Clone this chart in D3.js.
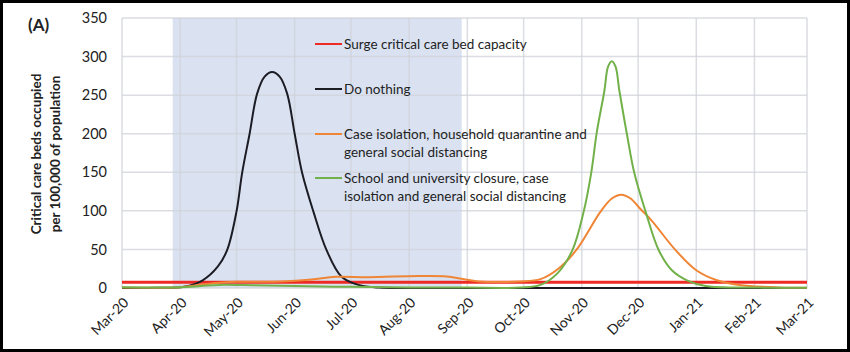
<!DOCTYPE html>
<html>
<head>
<meta charset="utf-8">
<script src="https://cdn.jsdelivr.net/npm/d3@7"></script>
<style>
  body { margin: 0; background: #fff; }
  svg { display: block; font-family: Lato, 'Open Sans', sans-serif; }
</style>
</head>
<body>
<svg id="chart" width="850" height="352"></svg>
<script>
'use strict';

const width = 850;
const height = 352;
const margin = { top: 18, right: 43, bottom: 64, left: 122 };

// Axis range and ticks
const xDomain = ['2020-03-01', '2021-03-01'];
const yTicks = [0, 50, 100, 150, 200, 250, 300, 350];

// Shaded period (interventions in place)
const shadeDates = ['2020-03-28', '2020-08-29'];

// Surge capacity
const surgeDates = ['2020-03-01', '2021-03-01'];
const surgeValues = [7.5, 7.5];

// Do nothing
const doNothingDates = ['2020-03-01', '2020-03-20', '2020-04-03', '2020-04-13', '2020-04-21', '2020-04-26',
  '2020-05-01', '2020-05-04', '2020-05-08', '2020-05-12', '2020-05-16', '2020-05-20', '2020-05-24',
  '2020-05-28', '2020-06-01', '2020-06-05', '2020-06-11', '2020-06-18', '2020-06-26', '2020-07-05',
  '2020-07-16', '2020-08-01', '2020-09-01', '2020-12-01', '2021-03-01'];
const doNothingValues = [0, 0.2, 1.5, 10, 27.6, 49, 99, 149, 200, 252, 274, 280, 274, 252, 200, 149, 99,
  49, 14.6, 4, 0.5, 0, 0, 0, 0];

// Case isolation, household quarantine and general social distancing
const caseIsoDates = ['2020-03-01', '2020-04-01', '2020-04-08', '2020-04-20', '2020-05-01', '2020-05-25',
  '2020-06-10', '2020-06-23', '2020-07-10', '2020-08-06', '2020-08-21', '2020-08-29', '2020-09-07',
  '2020-09-29', '2020-10-10', '2020-10-20', '2020-10-29', '2020-11-11', '2020-11-17', '2020-11-22',
  '2020-11-27', '2020-12-02', '2020-12-08', '2020-12-21', '2021-01-01', '2021-01-12', '2021-01-24',
  '2021-02-14', '2021-03-01'];
const caseIsoValues = [0.5, 1, 3, 6.5, 8, 8.5, 11, 14.5, 14, 15.5, 15, 12, 8.5, 8.5, 11.5, 26, 49, 99,
  116, 121, 116, 103, 88, 49, 23, 10, 4, 0.8, 0.3];

// School and university closure, case isolation and general social distancing
const schoolDates = ['2020-03-01', '2020-04-01', '2020-04-12', '2020-04-22', '2020-05-10', '2020-06-01',
  '2020-07-01', '2020-08-01', '2020-09-01', '2020-09-29', '2020-10-10', '2020-10-19', '2020-10-27',
  '2020-11-02', '2020-11-06', '2020-11-09', '2020-11-13', '2020-11-15', '2020-11-17', '2020-11-19',
  '2020-11-21', '2020-11-25', '2020-11-29', '2020-12-05', '2020-12-12', '2020-12-19', '2020-12-27',
  '2021-01-06', '2021-02-03', '2021-03-01'];
const schoolValues = [1, 1, 2.5, 4, 3.5, 2.5, 1.5, 0.8, 0.5, 0.5, 4, 19, 49, 99, 149, 202, 255, 287, 294,
  287, 256, 200, 149, 99, 49, 23, 10, 2.5, 0.5, 0.3];

const seriesNames = [
  ['Surge critical care bed capacity'],
  ['Do nothing'],
  ['Case isolation, household quarantine and', 'general social distancing'],
  ['School and university closure, case', 'isolation and general social distancing']
];
const seriesColors = ['#ee2a24', '#1c1c24', '#ef8535', '#72b14a'];

const parse = d3.utcParse('%Y-%m-%d');
const zip = (dates, values) => dates.map((d, i) => ({ date: parse(d), value: values[i] }));

const series = [
  zip(surgeDates, surgeValues),
  zip(doNothingDates, doNothingValues),
  zip(caseIsoDates, caseIsoValues),
  zip(schoolDates, schoolValues)
];

const svg = d3.select('#chart');

const x = d3.scaleUtc()
  .domain(xDomain.map(parse))
  .range([margin.left, width - margin.right]);

const y = d3.scaleLinear()
  .domain([0, 350])
  .range([height - margin.bottom, margin.top]);

// clip so smoothed lines never dip under the zero line
svg.append('clipPath')
  .attr('id', 'plot-clip')
  .append('rect')
  .attr('x', x.range()[0] - 2)
  .attr('y', y(350) - 2)
  .attr('width', x.range()[1] - x.range()[0] + 4)
  .attr('height', y(0) - y(350) + 3.5);

// shaded period
svg.append('rect')
  .attr('x', x(parse(shadeDates[0])))
  .attr('y', y(350))
  .attr('width', x(parse(shadeDates[1])) - x(parse(shadeDates[0])))
  .attr('height', y(0) - y(350))
  .attr('fill', '#dae2f2');

// gridlines
const months = d3.utcMonth.range(parse(xDomain[0]), d3.utcDay.offset(parse(xDomain[1]), 1));

const grid = svg.append('g')
  .attr('stroke', '#cfd2d8')
  .attr('stroke-opacity', 0.75)
  .attr('stroke-width', 1.5);

grid.selectAll('.hgrid')
  .data(yTicks)
  .enter().append('line')
  .attr('x1', x.range()[0])
  .attr('x2', x.range()[1])
  .attr('y1', d => y(d))
  .attr('y2', d => y(d));

grid.selectAll('.vgrid')
  .data(months)
  .enter().append('line')
  .attr('x1', d => x(d))
  .attr('x2', d => x(d))
  .attr('y1', y(350))
  .attr('y2', y(0));

// y axis labels
const yAxis = svg.append('g')
  .attr('transform', `translate(${margin.left - 15},0)`)
  .call(d3.axisLeft(y).tickValues(yTicks).tickSize(0).tickPadding(0));
yAxis.select('.domain').remove();
yAxis.selectAll('text')
  .attr('font-family', 'Lato, sans-serif')
  .attr('font-size', 14.5)
  .attr('fill', '#222');

// x axis labels
const fmt = d3.utcFormat('%b-%y');
svg.append('g')
  .selectAll('text')
  .data(months)
  .enter().append('text')
  .attr('transform', d => `translate(${x(d) + 4},${y(0) + 12}) rotate(-45)`)
  .attr('text-anchor', 'end')
  .attr('dy', '0.35em')
  .attr('font-size', 14)
  .attr('fill', '#222')
  .text(d => fmt(d));

// series lines
const line = d3.line()
  .x(d => x(d.date))
  .y(d => y(d.value))
  .curve(d3.curveCatmullRom.alpha(0.5));

svg.append('g')
  .attr('fill', 'none')
  .attr('clip-path', 'url(#plot-clip)')
  .selectAll('path')
  .data(series)
  .enter().append('path')
  .attr('d', line)
  .attr('stroke', (d, i) => seriesColors[i])
  .attr('stroke-width', (d, i) => i === 0 ? 3 : 2)
  .attr('stroke-linejoin', 'round');

// legend
const legendY = [44, 89, 134, 178];
const legend = svg.append('g')
  .selectAll('g')
  .data(seriesNames)
  .enter().append('g')
  .attr('transform', (d, i) => `translate(315,${legendY[i]})`);

legend.append('line')
  .attr('x1', 0)
  .attr('x2', 27)
  .attr('stroke', (d, i) => seriesColors[i])
  .attr('stroke-width', 2);

legend.append('text')
  .attr('x', 29)
  .attr('font-size', 13.5)
  .attr('fill', '#222')
  .selectAll('tspan')
  .data(d => d)
  .enter().append('tspan')
  .attr('x', 29)
  .attr('y', (d, i) => i * 18)
  .attr('dy', '0.35em')
  .text(d => d);

// y title
const yTitle = svg.append('text')
  .attr('transform', 'translate(45,154) rotate(-90)')
  .attr('text-anchor', 'middle')
  .attr('font-size', 13.5)
  .attr('font-weight', 'bold')
  .attr('fill', '#222');
yTitle.append('tspan').attr('x', 0).attr('y', -9).attr('dy', '0.35em').text('Critical care beds occupied');
yTitle.append('tspan').attr('x', 0).attr('y', 10).attr('dy', '0.35em').text('per 100,000 of population');

// panel letter
svg.append('text')
  .attr('x', 28)
  .attr('y', 31)
  .attr('font-size', 17)
  .attr('font-weight', 'bold')
  .attr('fill', '#222')
  .text('(A)');

// outer frame
svg.append('rect')
  .attr('x', 1.5)
  .attr('y', 1.5)
  .attr('width', width - 3)
  .attr('height', height - 3)
  .attr('fill', 'none')
  .attr('stroke', '#000')
  .attr('stroke-width', 3);
</script>
</body>
</html>
